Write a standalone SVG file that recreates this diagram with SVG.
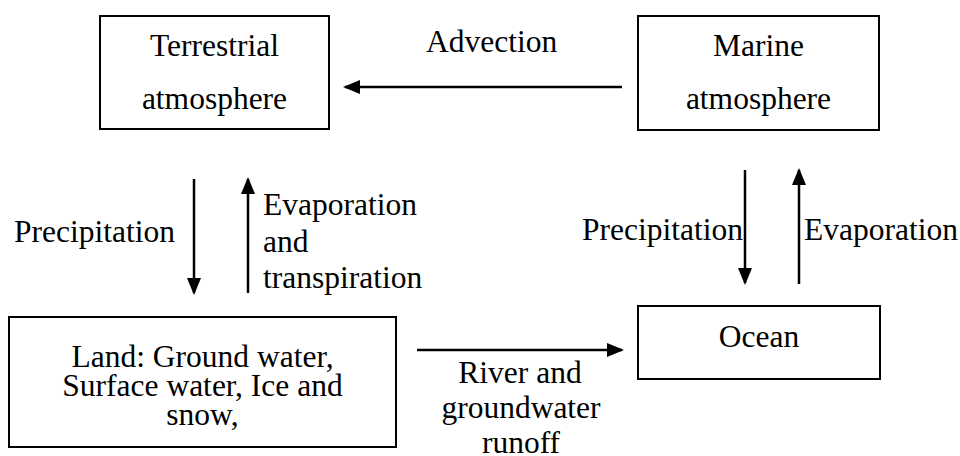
<svg xmlns="http://www.w3.org/2000/svg" width="960" height="456" viewBox="0 0 960 456">
  <style>
    .box { fill: #ffffff; stroke: #000000; stroke-width: 2; }
    .lbl { font-family: "Liberation Serif", "Times New Roman", serif; font-size: 31.5px; fill: #000000; }
    .mid { text-anchor: middle; }
    .flow { stroke: #000000; stroke-width: 2.5; fill: none; marker-end: url(#head); }
  </style>
  <defs>
    <marker id="head" markerUnits="userSpaceOnUse" markerWidth="17" markerHeight="14" refX="15" refY="7" orient="auto">
      <path d="M0,0 L17,7 L0,14 Z" fill="#000000"/>
    </marker>
  </defs>
  <rect width="960" height="456" fill="#ffffff"/>

  <g id="terrestrial-atmosphere">
    <rect class="box" x="100" y="16" width="229" height="113"/>
    <text class="lbl mid" x="214.5" y="56">Terrestrial</text>
    <text class="lbl mid" x="214.5" y="109">atmosphere</text>
  </g>

  <g id="marine-atmosphere">
    <rect class="box" x="638" y="16" width="241" height="114"/>
    <text class="lbl mid" x="758.5" y="56">Marine</text>
    <text class="lbl mid" x="758.5" y="109">atmosphere</text>
  </g>

  <g id="land">
    <rect class="box" x="9" y="317" width="387" height="130"/>
    <text class="lbl mid" x="202.5" y="367">Land: Ground water,</text>
    <text class="lbl mid" x="202.5" y="396">Surface water, Ice and</text>
    <text class="lbl mid" x="202.5" y="425">snow,</text>
  </g>

  <g id="ocean">
    <rect class="box" x="638" y="306" width="242" height="73"/>
    <text class="lbl mid" x="759" y="347">Ocean</text>
  </g>

  <g id="connectors">
    <line class="flow" x1="622" y1="87" x2="345" y2="87"/>
    <line class="flow" x1="194" y1="179" x2="194" y2="293"/>
    <line class="flow" x1="248" y1="293" x2="248" y2="179"/>
    <line class="flow" x1="745" y1="170" x2="745" y2="283"/>
    <line class="flow" x1="799" y1="284" x2="799" y2="170"/>
    <line class="flow" x1="417" y1="350" x2="622" y2="350"/>
  </g>

  <g id="connector-labels">
    <text class="lbl" x="426" y="52">Advection</text>
    <text class="lbl" x="14" y="242">Precipitation</text>
    <text class="lbl" x="263" y="215">Evaporation</text>
    <text class="lbl" x="263" y="252">and</text>
    <text class="lbl" x="263" y="288">transpiration</text>
    <text class="lbl" x="582" y="240">Precipitation</text>
    <text class="lbl" x="804" y="240">Evaporation</text>
    <text class="lbl mid" x="520" y="383">River and</text>
    <text class="lbl mid" x="521" y="418">groundwater</text>
    <text class="lbl mid" x="521" y="453">runoff</text>
  </g>
</svg>
